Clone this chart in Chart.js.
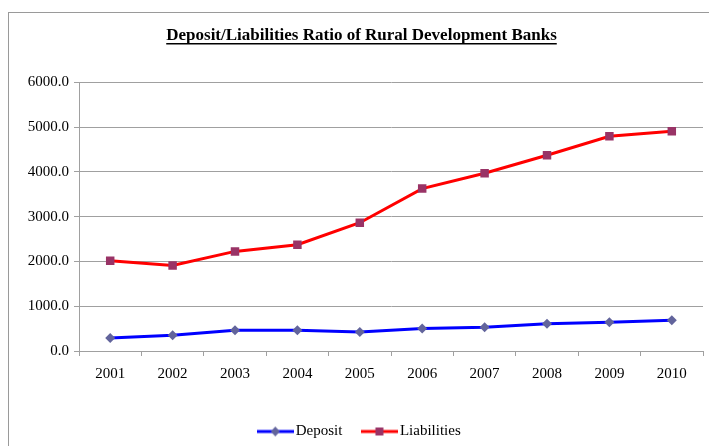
<!DOCTYPE html>
<html>
<head>
<meta charset="utf-8">
<script src="https://cdn.jsdelivr.net/npm/chart.js@4/dist/chart.umd.min.js"></script>
<style>
  html, body { margin: 0; padding: 0; background: #fff; }
  #wrap { position: relative; width: 709px; height: 446px; }
</style>
</head>
<body>
<div id="wrap"><canvas id="ratioChart" width="709" height="446"></canvas></div>
<script>
'use strict';

// --- data ---
const YEARS = ['2001', '2002', '2003', '2004', '2005', '2006', '2007', '2008', '2009', '2010'];
const DEPOSIT = [292, 352, 464, 464, 427, 502, 532, 607, 644, 685];
const LIABILITIES = [2015, 1910, 2225, 2375, 2865, 3628, 3970, 4372, 4798, 4910];
const Y_TICKS = [0, 1000, 2000, 3000, 4000, 5000, 6000];

const FONT = "'Liberation Serif', 'Times New Roman', serif";

// small legend icon: line with marker in the middle
function mkIcon(lineColor, markColor, shape) {
  const c = document.createElement('canvas');
  c.width = 37; c.height = 12;
  const g = c.getContext('2d');
  g.strokeStyle = lineColor;
  g.lineWidth = 3;
  g.beginPath(); g.moveTo(0, 6); g.lineTo(37, 6); g.stroke();
  g.fillStyle = markColor;
  g.beginPath();
  if (shape === 'diamond') {
    g.moveTo(18.5, 1); g.lineTo(23, 6); g.lineTo(18.5, 11); g.lineTo(14, 6);
  } else {
    g.rect(14.5, 2, 8, 8);
  }
  g.closePath(); g.fill();
  return c;
}

const icons = [
  mkIcon('#0000ff', '#62649c', 'diamond'),
  mkIcon('#ff0000', '#993366', 'square'),
];

// outer frame + underline under title
const decor = {
  id: 'decor',
  beforeDraw(chart) {
    const ctx = chart.ctx;
    ctx.save();
    ctx.strokeStyle = '#9a9a9a';
    ctx.lineWidth = 1;
    ctx.strokeRect(8.5, 12.5, 720, 460);
    ctx.restore();
  },
  afterDraw(chart) {
    const t = chart.titleBlock;
    if (!t) return;
    const ctx = chart.ctx;
    const opts = chart.options.plugins.title;
    ctx.save();
    ctx.font = 'bold ' + opts.font.size + 'px ' + FONT;
    const w = ctx.measureText(opts.text).width;
    const cx = (t.left + t.right) / 2;
    const y = t.top + opts.padding.top + opts.font.size * 1.2 / 2 + opts.font.size * 0.5;
    ctx.strokeStyle = '#000';
    ctx.lineWidth = 1.5;
    ctx.beginPath();
    ctx.moveTo(cx - w / 2, y);
    ctx.lineTo(cx + w / 2, y);
    ctx.stroke();
    ctx.restore();
  },
};

const ctx = document.getElementById('ratioChart').getContext('2d');
new Chart(ctx, {
  type: 'line',
  data: {
    labels: YEARS,
    datasets: [
      {
        label: 'Deposit',
        data: DEPOSIT,
        borderColor: '#0000ff',
        backgroundColor: '#62649c',
        borderWidth: 3,
        pointStyle: 'rectRot',
        pointRadius: 5,
        pointBackgroundColor: '#62649c',
        pointBorderColor: '#62649c',
        pointBorderWidth: 0,
        tension: 0,
      },
      {
        label: 'Liabilities',
        data: LIABILITIES,
        borderColor: '#ff0000',
        backgroundColor: '#993366',
        borderWidth: 3,
        pointStyle: 'rect',
        pointRadius: 6,
        pointBackgroundColor: '#993366',
        pointBorderColor: '#993366',
        pointBorderWidth: 0,
        tension: 0,
      },
    ],
  },
  options: {
    responsive: false,
    animation: false,
    devicePixelRatio: 1,
    layout: { padding: { left: 11, right: -3, top: 0, bottom: -3 } },
    plugins: {
      title: {
        display: true,
        text: 'Deposit/Liabilities Ratio of Rural Development Banks',
        color: '#000',
        font: { family: FONT, size: 17, weight: 'bold' },
        padding: { top: 25, bottom: 37 },
      },
      legend: {
        position: 'bottom',
        labels: {
          color: '#000',
          font: { family: FONT, size: 15 },
          usePointStyle: true,
          pointStyleWidth: 26,
          padding: 24,
          generateLabels(chart) {
            const items = Chart.defaults.plugins.legend.labels.generateLabels(chart);
            items.forEach((it, i) => { it.pointStyle = icons[i]; });
            return items;
          },
        },
      },
      tooltip: { enabled: false },
    },
    scales: {
      x: {
        offset: true,
        afterFit(axis) { axis.height = 49; },
        grid: {
          offset: true,
          drawOnChartArea: false,
          drawTicks: true,
          tickLength: 5,
          color: '#a0a0a0',
        },
        border: { color: '#a0a0a0', width: 1 },
        ticks: {
          color: '#000',
          font: { family: FONT, size: 15 },
          padding: 9,
          maxRotation: 0,
        },
      },
      y: {
        min: 0,
        max: 6000,
        afterBuildTicks(axis) {
          axis.ticks = Y_TICKS.map(v => ({ value: v }));
        },
        afterFit(axis) { axis.width = 68; },
        grid: {
          color: '#a0a0a0',
          tickLength: 5,
        },
        border: { color: '#a0a0a0', width: 1 },
        ticks: {
          color: '#000',
          font: { family: FONT, size: 15 },
          padding: 5,
          callback: v => Number(v).toFixed(1),
        },
      },
    },
  },
  plugins: [decor],
});
</script>
</body>
</html>
